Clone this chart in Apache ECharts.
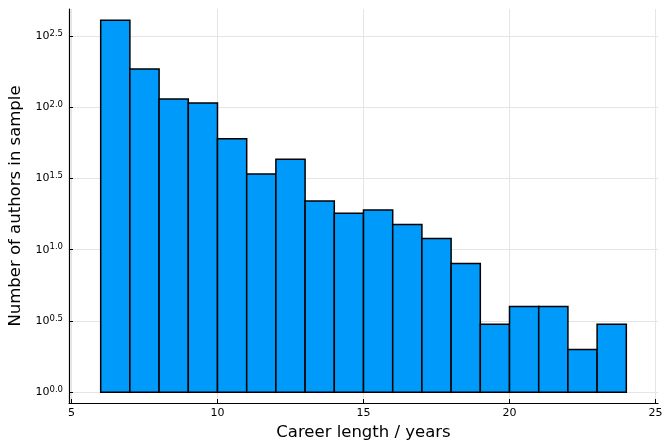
<!DOCTYPE html>
<html>
<head>
<meta charset="utf-8">
<script src="https://cdn.jsdelivr.net/npm/echarts@6/dist/echarts.min.js"></script>
<style>html,body{margin:0;padding:0;background:#fff}#c{width:665px;height:442px}</style>
</head>
<body>
<div id="c"></div>
<script>
// Histogram bins (career length in years) and counts
const binStarts = [6, 7, 8, 9, 10, 11, 12, 13, 14, 15, 16, 17, 18, 19, 20, 21, 22, 23];
const binWidth = 1;
const counts = [407, 185, 114, 107, 60, 34, 43, 22, 18, 19, 15, 12, 8, 3, 4, 4, 2, 3];
const xTicks = [5, 10, 15, 20, 25];
const yTickExps = [0.0, 0.5, 1.0, 1.5, 2.0, 2.5];

const data = binStarts.map((s, i) => [s, s + binWidth, Math.log10(counts[i]), counts[i]]);
const FONT = 'DejaVu Sans';

const chart = echarts.init(document.getElementById('c'), null, {renderer: 'canvas'});
chart.setOption({
  animation: false,
  backgroundColor: '#fff',
  grid: {left: 69, right: 7, top: 9, bottom: 39, containLabel: false, outerBoundsMode: 'none'},
  xAxis: {
    type: 'value', min: 4.915, max: 25.085,
    name: 'Career length / years', nameLocation: 'middle', nameGap: 20,
    nameTextStyle: {fontFamily: FONT, fontSize: 16.5, color: '#000'},
    axisLine: {show: true, onZero: false, lineStyle: {color: '#000', width: 1.2}},
    axisTick: {show: true, inside: true, length: 4, customValues: xTicks, lineStyle: {color: '#000'}},
    axisLabel: {customValues: xTicks, fontFamily: FONT, fontSize: 11, color: '#000', margin: 5},
    splitLine: {show: true, lineStyle: {color: '#e5e5e5', width: 1}}
  },
  yAxis: {
    type: 'value', min: -0.075, max: 2.688,
    name: 'Number of authors in sample', nameLocation: 'middle', nameGap: 43, nameRotate: 90,
    nameTextStyle: {fontFamily: FONT, fontSize: 16.5, color: '#000'},
    axisLine: {show: true, onZero: false, lineStyle: {color: '#000', width: 1.2}},
    axisTick: {show: true, inside: true, length: 4, customValues: yTickExps, lineStyle: {color: '#000'}},
    axisLabel: {
      customValues: yTickExps, margin: 6,
      formatter: v => '{b|10}{s|' + v.toFixed(1) + '}',
      rich: {
        b: {fontFamily: FONT, fontSize: 11, color: '#000'},
        s: {fontFamily: FONT, fontSize: 8.5, color: '#000', padding: [0, 0, 5, 0]}
      }
    },
    splitLine: {show: true, lineStyle: {color: '#e5e5e5', width: 1}}
  },
  series: [{
    type: 'custom',
    data: data,
    encode: {x: [0, 1], y: 2},
    renderItem: function (params, api) {
      const p0 = api.coord([api.value(0), api.value(2)]);
      const p1 = api.coord([api.value(1), 0]);
      return {
        type: 'rect',
        shape: {x: p0[0], y: p0[1], width: p1[0] - p0[0], height: p1[1] - p0[1]},
        style: {fill: '#009AFA', stroke: '#000', lineWidth: 1.5}
      };
    }
  }]
});
</script>
</body>
</html>
